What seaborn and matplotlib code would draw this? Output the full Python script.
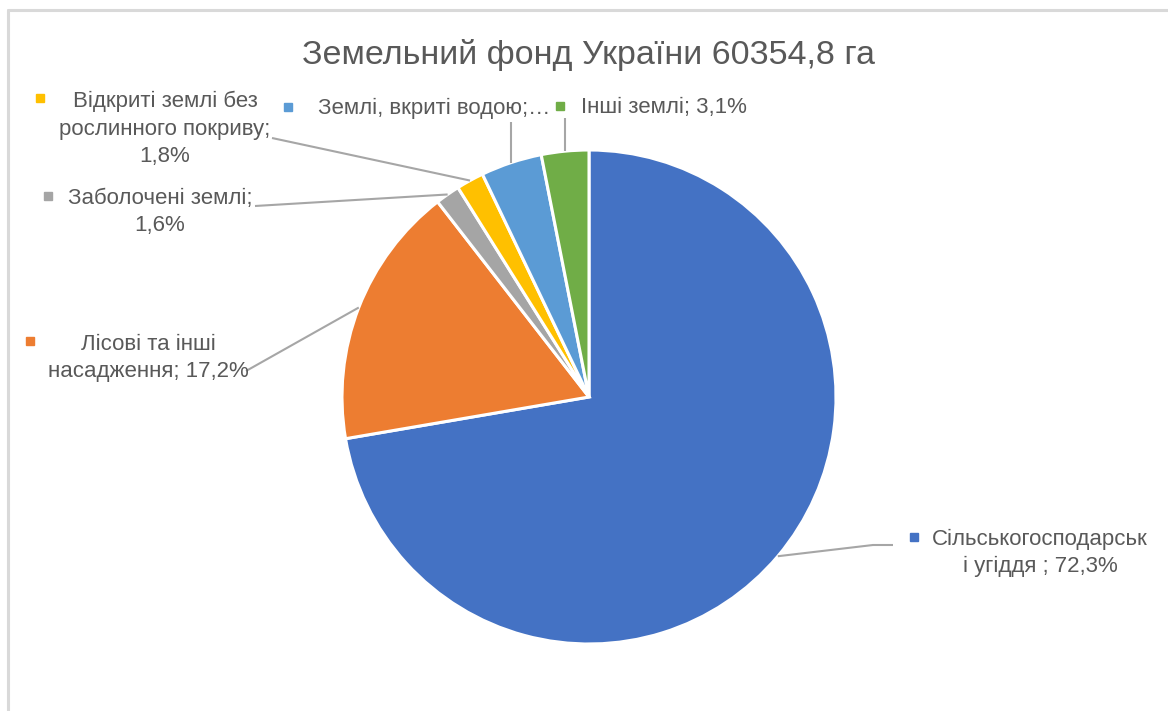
import matplotlib
matplotlib.use("Agg")
import matplotlib.pyplot as plt
import seaborn as sns
import numpy as np

# ---------------- data ----------------
categories = [
    "Сільськогосподарські угіддя",
    "Лісові та інші насадження",
    "Заболочені землі",
    "Відкриті землі без рослинного покриву",
    "Землі, вкриті водою",
    "Інші землі",
]
shares = [72.3, 17.2, 1.6, 1.8, 4.0, 3.1]
label_texts = [
    "Сільськогосподарськ\nі угіддя ; 72,3%",
    "Лісові та інші\nнасадження; 17,2%",
    "Заболочені землі;\n1,6%",
    "Відкриті землі без\nрослинного покриву;\n1,8%",
    "Землі, вкриті водою;…",
    "Інші землі; 3,1%",
]
title_text = "Земельний фонд України 60354,8 га"
colors = ["#4472C4", "#ED7D31", "#A5A5A5", "#FFC000", "#5B9BD5", "#70AD47"]

# ---------------- layout (pixel coords, y downward) ----------------
W, H = 1168, 711
CX, CY, R = 589, 397, 247
text_pos = [(1040, 553), (148, 358), (160, 212), (165, 129), (434, 108), (664, 108)]
marker_pos = [(914, 537), (30, 341), (48, 196), (40, 98), (288, 107), (560, 106)]
leader_pts = [
    [(873, 545), (893, 545)],
    [(246, 371)],
    [(255, 206)],
    [(272, 138)],
    [(None, 122)],
    [(None, 118)],
]

sns.set_theme(style="white")
plt.rcParams["font.family"] = ["Liberation Sans", "DejaVu Sans"]

fig = plt.figure(figsize=(W / 100, H / 100), dpi=100)
ax = fig.add_axes([0, 0, 1, 1])

# with y inverted, counterclock=True in data space is clockwise on screen; -90 is top
wedges, _ = ax.pie(
    shares,
    colors=colors,
    startangle=-90,
    counterclock=True,
    center=(CX, CY),
    radius=R,
    wedgeprops=dict(edgecolor="white", linewidth=2.2),
    frame=True,
)
ax.set_xlim(0, W)
ax.set_ylim(H, 0)
ax.set_aspect("equal")
ax.axis("off")

text_color = "#595959"
line_color = "#A6A6A6"

for i, w in enumerate(wedges):
    mid = np.deg2rad((w.theta1 + w.theta2) / 2)
    sx, sy = CX + R * np.cos(mid), CY + R * np.sin(mid)
    xs, ys = [sx], [sy]
    for (px, py) in leader_pts[i]:
        xs.append(sx if px is None else px)
        ys.append(py)
    ax.plot(xs, ys, color=line_color, lw=1.5, solid_capstyle="butt", zorder=1)
    tx, ty = text_pos[i]
    ax.text(tx, ty, label_texts[i], ha="center", va="center", multialignment="center",
            fontsize=16, color=text_color, linespacing=1.4, zorder=3)
    mx, my = marker_pos[i]
    ax.plot([mx], [my], marker="s", markersize=5.5, color=colors[i], linestyle="none", zorder=3)

ax.text(588, 55, title_text, ha="center", va="center", fontsize=24.5, color=text_color)

# chart frame
ax.plot([8, 8], [H, 10], color="#D9D9D9", lw=2.2, zorder=0)
ax.plot([8, W], [10, 10], color="#D9D9D9", lw=2.2, zorder=0)

fig.savefig("out.png", dpi=100)
